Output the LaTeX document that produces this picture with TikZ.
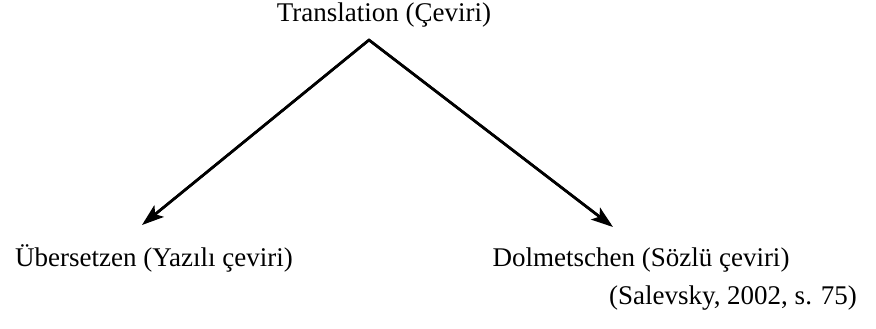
\documentclass[tikz,border=0pt]{standalone}
\usepackage{fontspec}
\setmainfont{Liberation Serif}
\usetikzlibrary{arrows.meta}
\begin{document}
\begin{tikzpicture}[x=1pt,y=-1pt,
  label/.style={font=\fontsize{27}{32}\selectfont, inner sep=0pt, anchor=base},
  branch/.style={line width=2.6pt, -{Stealth[length=22pt,width=15pt,inset=5pt]}}]
  \useasboundingbox (0,0) rectangle (876,329);
  \node[label] (top) at (384,22) {Translation (Çeviri)};
  \coordinate (apex) at (369,40);
  \node[label] (left) at (154,266) {Übersetzen (Yazılı çeviri)};
  \node[label] (right) at (641,266) {Dolmetschen (Sözlü çeviri)};
  \node[label] (src) at (733,304) {(Salevsky, 2002, s. 75)};
  \coordinate (ltip) at (142,225);
  \coordinate (rtip) at (613,227);
  \draw[line width=2.6pt, line join=miter, shorten <=4pt, shorten >=4pt] (ltip) -- (apex) -- (rtip);
  \draw[branch] (apex) -- (ltip);
  \draw[branch] (apex) -- (rtip);
\end{tikzpicture}
\end{document}
